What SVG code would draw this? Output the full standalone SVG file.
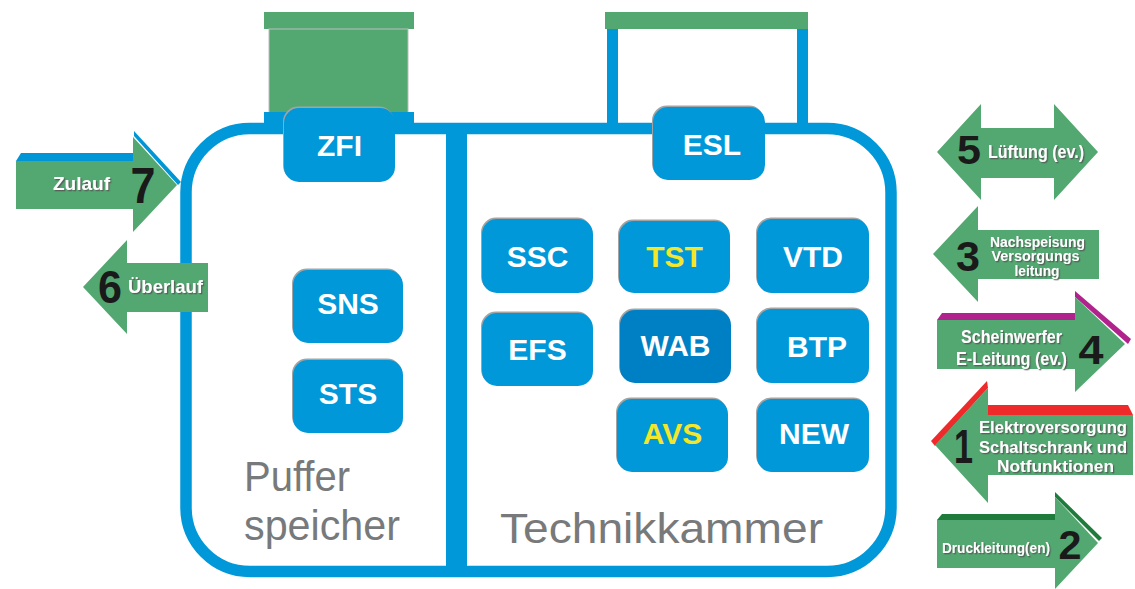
<svg xmlns="http://www.w3.org/2000/svg" width="1135" height="589" viewBox="0 0 1135 589">
<defs>
<style>
.g{fill:#52a870}
.bl{fill:#0098d9}
.box{fill:#0098d9}
.bsh{fill:#a3a3a3}
.bt{font-family:"Liberation Sans",Arial,sans-serif;font-weight:bold;font-size:30px;fill:#ffffff;text-anchor:middle}
.yl{fill:#f4e62a}
.big{font-family:"Liberation Sans",Arial,sans-serif;font-size:43px;fill:#77797a}
.lbl{font-family:"Liberation Sans",Arial,sans-serif;font-weight:bold;fill:#ffffff;filter:url(#sh)}
.num{font-family:"Liberation Sans",Arial,sans-serif;font-weight:bold;fill:#1a1a1a;text-anchor:middle}
</style>
<filter id="sh" x="-2%" y="-15%" width="105%" height="135%">
<feDropShadow dx="1.3" dy="1.3" stdDeviation="0.4" flood-color="#555555" flood-opacity="0.85"/>
</filter>
</defs>
<rect width="1135" height="589" fill="#ffffff"/>

<g id="tank">
<rect x="264" y="12" width="150" height="17" class="g"/>
<rect x="269" y="29" width="139" height="84" class="g" stroke="#bdbdbd" stroke-width="1"/>
<rect x="264" y="112" width="150" height="12" class="bl"/>
<rect x="605" y="12" width="203" height="17" class="g"/>
<rect x="607" y="29" width="11" height="95" class="bl"/>
<rect x="797" y="29" width="11" height="95" class="bl"/>
<rect x="186" y="128.5" width="705" height="443" rx="64" fill="none" stroke="#0098d9" stroke-width="11.5"/>
<rect x="446" y="123" width="21" height="454" class="bl"/>
<text class="big" x="244" y="491" textLength="106" lengthAdjust="spacingAndGlyphs">Puffer</text>
<text class="big" x="244" y="540" textLength="156" lengthAdjust="spacingAndGlyphs">speicher</text>
<text class="big" x="500" y="543" textLength="323" lengthAdjust="spacingAndGlyphs">Technikkammer</text>
</g>

<g id="node-zfi"><rect class="bsh" x="283" y="106.5" width="111" height="74" rx="15"/><rect class="box" x="284" y="108" width="111" height="74" rx="15"/><text class="bt" x="339.5" y="156">ZFI</text></g>
<g id="node-esl"><rect class="bsh" x="652" y="105.5" width="112" height="73" rx="15"/><rect class="box" x="653" y="107" width="112" height="73" rx="15"/><text class="bt" x="712" y="155">ESL</text></g>
<g id="node-sns"><rect class="bsh" x="292" y="268.5" width="110" height="73" rx="15"/><rect class="box" x="293" y="270" width="110" height="73" rx="15"/><text class="bt" x="348" y="314">SNS</text></g>
<g id="node-sts"><rect class="bsh" x="292" y="358.5" width="110" height="73" rx="15"/><rect class="box" x="293" y="360" width="110" height="73" rx="15"/><text class="bt" x="348" y="404">STS</text></g>
<g id="node-ssc"><rect class="bsh" x="481" y="217.5" width="111" height="74" rx="15"/><rect class="box" x="482" y="219" width="111" height="74" rx="15"/><text class="bt" x="537.5" y="267">SSC</text></g>
<g id="node-tst"><rect class="bsh" x="618" y="219.5" width="111" height="72" rx="15"/><rect class="box" x="619" y="221" width="111" height="72" rx="15"/><text class="bt yl" x="674.5" y="267">TST</text></g>
<g id="node-vtd"><rect class="bsh" x="756" y="217.5" width="112" height="74" rx="15"/><rect class="box" x="757" y="219" width="112" height="74" rx="15"/><text class="bt" x="813" y="267">VTD</text></g>
<g id="node-efs"><rect class="bsh" x="481" y="311.5" width="111" height="73" rx="15"/><rect class="box" x="482" y="313" width="111" height="73" rx="15"/><text class="bt" x="537.5" y="360">EFS</text></g>
<g id="node-wab"><rect class="bsh" x="619" y="308.5" width="111" height="73" rx="15"/><rect x="620" y="310" width="111" height="73" rx="15" fill="#0080c4"/><text class="bt" x="675.5" y="356">WAB</text></g>
<g id="node-btp"><rect class="bsh" x="756" y="307.5" width="112" height="74" rx="15"/><rect class="box" x="757" y="309" width="112" height="74" rx="15"/><text class="bt" x="817" y="357">BTP</text></g>
<g id="node-avs"><rect class="bsh" x="616" y="397.5" width="111" height="73" rx="15"/><rect class="box" x="617" y="399" width="111" height="73" rx="15"/><text class="bt yl" x="672.5" y="444">AVS</text></g>
<g id="node-new"><rect class="bsh" x="756" y="397.5" width="112" height="73" rx="15"/><rect class="box" x="757" y="399" width="112" height="73" rx="15"/><text class="bt" x="814" y="444">NEW</text></g>

<g id="connectors">
<g id="arrow-7">
<polygon points="16,161 21,153 133,153 133,161" fill="#0096d6"/>
<polygon points="134,131 181,182 178,185 134,136" fill="#0096d6"/>
<polygon class="g" points="16,161 133,161 133,137 177,185 133,232 133,209 16,209"/>
<text class="lbl" x="53" y="190" font-size="19" textLength="57" lengthAdjust="spacingAndGlyphs">Zulauf</text>
<text class="num" x="143" y="203" font-size="50" textLength="25" lengthAdjust="spacingAndGlyphs">7</text>
</g>
<g id="arrow-6">
<polygon class="g" points="208,263 127,263 127,240 83,287 127,334 127,312 208,312"/>
<text class="num" x="110" y="303" font-size="46" textLength="24" lengthAdjust="spacingAndGlyphs">6</text>
<text class="lbl" x="128" y="293" font-size="19" textLength="75" lengthAdjust="spacingAndGlyphs">Überlauf</text>
</g>
<g id="arrow-5">
<polygon class="g" points="937,152 981,104 981,128 1054,128 1054,104 1098,152 1054,200 1054,178 981,178 981,200"/>
<text class="num" x="969" y="164" font-size="41" textLength="24" lengthAdjust="spacingAndGlyphs">5</text>
<text class="lbl" x="988" y="158" font-size="18" textLength="96" lengthAdjust="spacingAndGlyphs">Lüftung (ev.)</text>
</g>
<g id="arrow-3">
<polygon class="g" points="933,254 978,206 978,230 1099,230 1099,279 978,279 978,302"/>
<text class="num" x="968" y="271" font-size="43" textLength="24" lengthAdjust="spacingAndGlyphs">3</text>
<text class="lbl" x="1037.5" y="246.5" font-size="14" text-anchor="middle" textLength="95" lengthAdjust="spacingAndGlyphs">Nachspeisung</text>
<text class="lbl" x="1035.5" y="261" font-size="14" text-anchor="middle" textLength="88" lengthAdjust="spacingAndGlyphs">Versorgungs</text>
<text class="lbl" x="1037" y="275.5" font-size="14" text-anchor="middle" textLength="45" lengthAdjust="spacingAndGlyphs">leitung</text>
</g>
<g id="arrow-4">
<polygon points="937,320 942,313 1075,313 1075,320" fill="#b0228c"/>
<polygon points="1075,291 1131,339 1128,344 1075,297" fill="#b0228c"/>
<polygon class="g" points="937,320 1075,320 1075,297 1125,344 1075,392 1075,369 937,369"/>
<text class="lbl" x="1011.5" y="343" font-size="17.5" text-anchor="middle" textLength="101" lengthAdjust="spacingAndGlyphs">Scheinwerfer</text>
<text class="lbl" x="1011.5" y="365" font-size="17.5" text-anchor="middle" textLength="111" lengthAdjust="spacingAndGlyphs">E-Leitung (ev.)</text>
<text class="num" x="1091" y="364" font-size="40" textLength="25" lengthAdjust="spacingAndGlyphs">4</text>
</g>
<g id="arrow-1">
<polygon points="988,405 1128,405 1133,415 988,415" fill="#ee2a2a"/>
<polygon points="987,381 988,388 935,446 931,441" fill="#ee2a2a"/>
<polygon class="g" points="935,445 988,388 988,415 1133,415 1133,475 988,475 988,503"/>
<text class="num" x="963.5" y="463" font-size="48" textLength="19" lengthAdjust="spacingAndGlyphs">1</text>
<text class="lbl" x="979" y="433" font-size="17" textLength="148" lengthAdjust="spacingAndGlyphs">Elektroversorgung</text>
<text class="lbl" x="979" y="453" font-size="17" textLength="148" lengthAdjust="spacingAndGlyphs">Schaltschrank und</text>
<text class="lbl" x="997" y="472" font-size="17" textLength="117" lengthAdjust="spacingAndGlyphs">Notfunktionen</text>
</g>
<g id="arrow-2">
<polygon points="937,520 942,514 1055,514 1055,520" fill="#1e7b3c"/>
<polygon points="1055,492 1102,538 1099,541 1055,497" fill="#1e7b3c"/>
<polygon class="g" points="937,520 1055,520 1055,497 1098,543 1055,589 1055,568 937,568"/>
<text class="lbl" x="942" y="553" font-size="14.3" textLength="108" lengthAdjust="spacingAndGlyphs">Druckleitung(en)</text>
<text class="num" x="1070" y="559" font-size="41" textLength="23" lengthAdjust="spacingAndGlyphs">2</text>
</g>
</g>
</svg>
